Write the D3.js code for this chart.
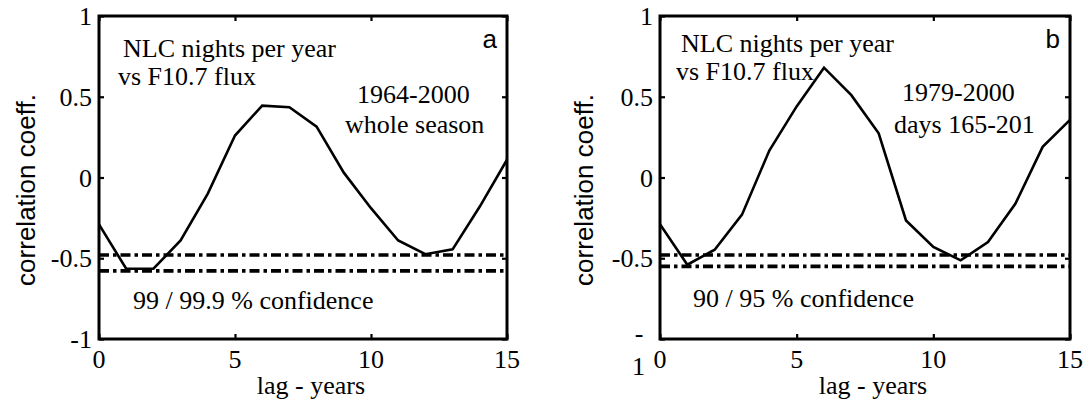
<!DOCTYPE html>
<html>
<head>
<meta charset="utf-8">
<script src="https://cdn.jsdelivr.net/npm/d3@7"></script>
<style>
  html, body { margin: 0; padding: 0; background: #fff; }
  svg { display: block; }
  .serif { font-family: "Liberation Serif", "Times New Roman", serif; font-size: 26px; fill: #000; }
  .sans { font-family: "Liberation Sans", Arial, sans-serif; font-size: 26px; fill: #000; }
</style>
</head>
<body>
<svg id="chart" width="1087" height="405"></svg>
<script>
// Lag in years (x categories) and correlation coefficients for each panel
const lags = [0, 1, 2, 3, 4, 5, 6, 7, 8, 9, 10, 11, 12, 13, 14, 15];
const corrWholeSeason = [-0.29, -0.565, -0.565, -0.39, -0.10, 0.26, 0.445, 0.435, 0.315, 0.03,
                         -0.19, -0.39, -0.475, -0.445, -0.18, 0.11];
const corrDays165to201 = [-0.29, -0.54, -0.447, -0.23, 0.167, 0.44, 0.68, 0.51, 0.274, -0.266,
                          -0.43, -0.513, -0.40, -0.163, 0.19, 0.357];
// Confidence levels drawn as dash-dot lines
const confWholeSeason = [-0.48, -0.578];
const confDays165to201 = [-0.48, -0.55];
// Axis ticks
const xTickValues = [0, 5, 10, 15];
const yTickValues = [-1, -0.5, 0, 0.5, 1];

const panels = [
  {
    left: 99, right: 507, top: 16, bottom: 339,
    values: corrWholeSeason, conf: confWholeSeason, letter: "a",
    notes: [
      { text: "NLC nights per year", x: 123, y: 57 },
      { text: "vs F10.7 flux", x: 118, y: 85 },
      { text: "1964-2000", x: 357, y: 103 },
      { text: "whole season", x: 345, y: 133 },
      { text: "99 / 99.9 % confidence", x: 133, y: 309 }
    ],
    ylabelX: 35, splitMinusOne: false
  },
  {
    left: 660, right: 1070, top: 16, bottom: 339,
    values: corrDays165to201, conf: confDays165to201, letter: "b",
    notes: [
      { text: "NLC nights per year", x: 681, y: 52 },
      { text: "vs F10.7 flux", x: 676, y: 80 },
      { text: "1979-2000", x: 902, y: 101 },
      { text: "days 165-201", x: 894, y: 133 },
      { text: "90 / 95 % confidence", x: 693, y: 307 }
    ],
    ylabelX: 593, splitMinusOne: true
  }
];

const svg = d3.select("#chart");
const fmt = d => String(d);

panels.forEach(p => {
  const x = d3.scaleLinear().domain([0, 15]).range([p.left, p.right]);
  const y = d3.scaleLinear().domain([-1, 1]).range([p.bottom, p.top]);
  const g = svg.append("g");

  // confidence lines
  g.selectAll("line.conf").data(p.conf).join("line")
    .attr("class", "conf")
    .attr("x1", x(0)).attr("x2", x(15))
    .attr("y1", d => y(d)).attr("y2", d => y(d))
    .attr("stroke", "#000").attr("stroke-width", 3.6)
    .attr("stroke-dasharray", "10,4,3.5,4");

  // correlation curve
  const line = d3.line().x((d, i) => x(lags[i])).y(d => y(d));
  g.append("path").datum(p.values)
    .attr("d", line)
    .attr("fill", "none").attr("stroke", "#000")
    .attr("stroke-width", 2.6).attr("stroke-linejoin", "miter");

  // inward ticks on all four sides
  const tickLen = 5;
  const axB = d3.axisTop(x).tickValues(xTickValues).tickSize(tickLen).tickFormat("");
  const axT = d3.axisBottom(x).tickValues(xTickValues).tickSize(tickLen).tickFormat("");
  const axL = d3.axisRight(y).tickValues(yTickValues).tickSize(tickLen).tickFormat("");
  const axR = d3.axisLeft(y).tickValues(yTickValues).tickSize(tickLen).tickFormat("");
  [[axB, `translate(0,${p.bottom})`], [axT, `translate(0,${p.top})`],
   [axL, `translate(${p.left},0)`], [axR, `translate(${p.right},0)`]].forEach(([ax, tr]) => {
    const a = g.append("g").attr("transform", tr).call(ax);
    a.select(".domain").remove();
    a.selectAll(".tick line").attr("stroke", "#000").attr("stroke-width", 2.2);
  });

  // frame
  g.append("rect")
    .attr("x", p.left).attr("y", p.top)
    .attr("width", p.right - p.left).attr("height", p.bottom - p.top)
    .attr("fill", "none").attr("stroke", "#000").attr("stroke-width", 3);

  // x tick labels
  g.selectAll("text.xt").data(xTickValues).join("text")
    .attr("class", "serif xt")
    .attr("x", d => x(d)).attr("y", p.bottom + 29)
    .attr("text-anchor", "middle")
    .text(fmt);

  // y tick labels
  const yLabels = p.splitMinusOne ? yTickValues.filter(d => d !== -1) : yTickValues;
  g.selectAll("text.yt").data(yLabels).join("text")
    .attr("class", "serif yt")
    .attr("x", p.left - 7).attr("y", d => y(d) + 9)
    .attr("text-anchor", "end")
    .text(fmt);
  if (p.splitMinusOne) {
    // the "-1" label wraps onto two lines
    g.append("text").attr("class", "serif")
      .attr("x", p.left - 21).attr("y", y(-1) + 3).attr("text-anchor", "middle").text("-");
    g.append("text").attr("class", "serif")
      .attr("x", p.left - 15).attr("y", y(-1) + 36).attr("text-anchor", "end").text("1");
  }

  // axis titles
  g.append("text").attr("class", "serif")
    .attr("x", (p.left + p.right) / 2 + 8).attr("y", 394)
    .attr("text-anchor", "middle").text("lag - years");
  g.append("text").attr("class", "sans")
    .attr("transform", `translate(${p.ylabelX},190) rotate(-90)`)
    .attr("text-anchor", "middle").text("correlation coeff.");

  // panel letter
  g.append("text").attr("class", "sans")
    .attr("x", p.right - 10).attr("y", 48)
    .attr("text-anchor", "end").text(p.letter);

  // annotations
  g.selectAll("text.note").data(p.notes).join("text")
    .attr("class", "serif note")
    .attr("x", d => d.x).attr("y", d => d.y)
    .text(d => d.text);
});
</script>
</body>
</html>
